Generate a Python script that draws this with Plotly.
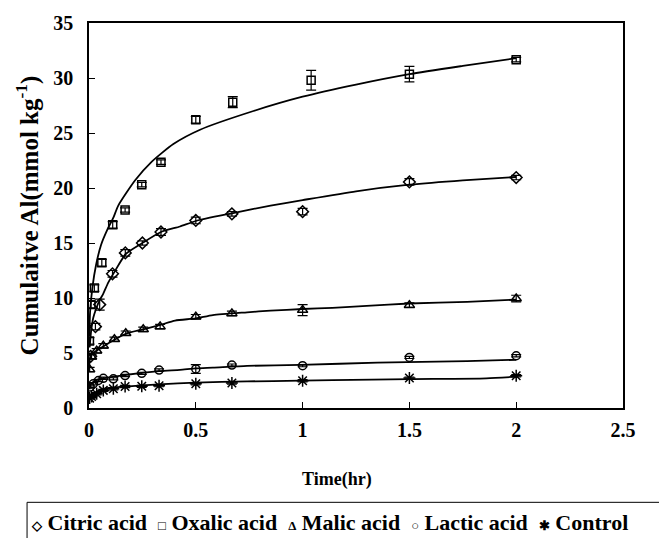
import plotly.graph_objects as go

# ---- measured points (time in hr, cumulative Al in mmol/kg) ----
citric_t = [0.008, 0.03, 0.05, 0.11, 0.17, 0.25, 0.337, 0.5, 0.669, 1.0, 1.5, 2.0]
citric_y = [4.7, 7.4, 9.4, 12.2, 14.1, 15.0, 16.0, 17.05, 17.65, 17.85, 20.55, 20.95]
citric_e = [0.2, 0.3, 0.5, 0.3, 0.3, 0.2, 0.3, 0.3, 0.2, 0.3, 0.3, 0.2]

oxalic_t = [0.002, 0.009, 0.025, 0.06, 0.111, 0.169, 0.247, 0.337, 0.5, 0.673, 1.04, 1.5, 2.0]
oxalic_y = [6.1, 9.4, 10.9, 13.2, 16.65, 18.0, 20.3, 22.35, 26.2, 27.8, 29.8, 30.35, 31.67]
oxalic_e = [0.3, 0.3, 0.3, 0.3, 0.3, 0.2, 0.2, 0.2, 0.3, 0.5, 0.9, 0.7, 0.2]

malic_t = [0.003, 0.012, 0.036, 0.067, 0.119, 0.172, 0.254, 0.333, 0.5, 0.669, 1.0, 1.5, 2.0]
malic_y = [3.5, 4.65, 5.2, 5.65, 6.25, 6.8, 7.15, 7.4, 8.3, 8.6, 8.9, 9.35, 9.95]
malic_e = [0.2, 0.2, 0.2, 0.2, 0.2, 0.2, 0.2, 0.2, 0.2, 0.2, 0.5, 0.2, 0.3]

lactic_t = [0.005, 0.02, 0.044, 0.067, 0.114, 0.169, 0.247, 0.328, 0.5, 0.669, 1.0, 1.5, 2.0]
lactic_y = [1.9, 2.2, 2.5, 2.7, 2.65, 2.95, 3.15, 3.45, 3.55, 3.9, 3.85, 4.6, 4.75]
lactic_e = [0.1, 0.1, 0.1, 0.1, 0.1, 0.1, 0.1, 0.1, 0.4, 0.1, 0.1, 0.1, 0.1]

control_t = [0.003, 0.012, 0.036, 0.067, 0.114, 0.169, 0.247, 0.328, 0.5, 0.669, 1.0, 1.5, 2.0]
control_y = [0.9, 1.05, 1.3, 1.6, 1.75, 1.95, 1.97, 2.03, 2.2, 2.27, 2.48, 2.72, 2.93]
control_e = [0.1, 0.1, 0.1, 0.1, 0.1, 0.1, 0.1, 0.1, 0.1, 0.1, 0.1, 0.1, 0.1]

# ---- fitted trend curves ----
citric_ct = [0.003, 0.01, 0.02, 0.033, 0.05, 0.067, 0.09, 0.12, 0.172, 0.25, 0.337, 0.426, 0.5, 0.669, 0.85, 1.0, 1.25, 1.5, 1.75, 2.0]
citric_cy = [5.5, 7.0, 8.2, 9.0, 9.8, 10.4, 11.4, 12.4, 14.0, 15.0, 16.0, 16.5, 17.0, 17.7, 18.4, 18.9, 19.7, 20.3, 20.7, 21.0]

oxalic_ct = [0.002, 0.005, 0.017, 0.033, 0.056, 0.088, 0.114, 0.137, 0.216, 0.294, 0.395, 0.52, 0.77, 1.0, 1.25, 1.5, 1.75, 2.0]
oxalic_cy = [6.5, 8.7, 11.1, 13.0, 14.8, 16.3, 17.3, 18.4, 20.7, 22.4, 24.0, 25.3, 27.0, 28.3, 29.4, 30.35, 31.1, 31.8]

malic_ct = [0.001, 0.005, 0.02, 0.067, 0.119, 0.172, 0.254, 0.333, 0.403, 0.5, 0.58, 0.74, 0.85, 1.0, 1.14, 1.3, 1.5, 1.77, 2.0]
malic_cy = [3.6, 4.6, 5.0, 5.6, 6.2, 6.75, 7.15, 7.55, 7.95, 8.15, 8.45, 8.7, 8.85, 9.0, 9.1, 9.28, 9.5, 9.65, 9.85]

lactic_ct = [0.002, 0.01, 0.044, 0.169, 0.328, 0.426, 0.5, 0.58, 0.74, 0.99, 1.35, 1.77, 2.0]
lactic_cy = [1.7, 2.2, 2.6, 3.0, 3.35, 3.47, 3.6, 3.67, 3.83, 3.92, 4.12, 4.27, 4.38]

control_ct = [0.002, 0.005, 0.067, 0.169, 0.328, 0.5, 0.74, 0.99, 1.14, 1.5, 1.86, 2.0]
control_cy = [0.9, 1.14, 1.74, 1.94, 2.15, 2.3, 2.42, 2.48, 2.54, 2.63, 2.7, 2.85]

legend_names = ["Citric acid", "Oxalic acid", "Malic acid", "Lactic acid", "Control"]
legend_glyphs = ["◇", "□", "Δ", "○", "✱"]

series = [
    (citric_t, citric_y, citric_e, citric_ct, citric_cy, "diamond-open", 9),
    (oxalic_t, oxalic_y, oxalic_e, oxalic_ct, oxalic_cy, "square-open", 8),
    (malic_t, malic_y, malic_e, malic_ct, malic_cy, "triangle-up-open", 9),
    (lactic_t, lactic_y, lactic_e, lactic_ct, lactic_cy, "circle-open", 8),
    (control_t, control_y, control_e, control_ct, control_cy, "asterisk-open", 10),
]

FONT = "Liberation Serif, Times New Roman, serif"
fig = go.Figure()
for name, (t, y, e, ct, cy, sym, sz) in zip(legend_names, series):
    fig.add_trace(go.Scatter(
        x=ct, y=cy, mode="lines", showlegend=False,
        line=dict(color="black", width=1.8, shape="spline", smoothing=0.6),
        hoverinfo="skip"))
    fig.add_trace(go.Scatter(
        x=t, y=y, mode="markers", name=name, showlegend=False,
        marker=dict(symbol=sym, size=sz, color="black",
                    line=dict(color="black", width=1.5)),
        error_y=dict(type="data", array=e, color="black", thickness=1.2, width=5)))

axis_common = dict(
    showline=True, linecolor="black", linewidth=1.5, mirror=True,
    ticks="inside", ticklen=6, tickcolor="black", tickwidth=1,
    showgrid=False, zeroline=False,
    tickfont=dict(family=FONT, size=20, color="black", weight="bold"),
)

fig.update_layout(
    width=659, height=538,
    margin=dict(l=89, r=36, t=17, b=130),
    paper_bgcolor="white", plot_bgcolor="white",
    showlegend=False,
    xaxis=dict(range=[0, 2.5], dtick=0.5, tick0=0, ticklabelstandoff=3, **axis_common),
    yaxis=dict(range=[0, 35], dtick=5, tick0=0,
               title=dict(text="Cumulaitve Al(mmol kg<sup>-1</sup>)", standoff=8,
                          font=dict(family=FONT, size=25, color="black", weight="bold")),
               ticklabelstandoff=10,
               **axis_common),
)

# x-axis title (sits slightly left of the plot centre in the reference)
fig.add_annotation(
    xref="paper", yref="paper", x=0.465, y=-0.185, xanchor="center", yanchor="middle",
    showarrow=False, text="Time(hr)",
    font=dict(family=FONT, size=18, color="black", weight="bold"))

# legend: bordered row of small symbols and bold names, as in the reference
legend_text = "  ".join(
    f"<span style='font-size:13px'>{g}</span> {n}" for g, n in zip(legend_glyphs, legend_names))
fig.add_shape(type="rect", xref="paper", yref="paper",
              x0=-0.116, x1=1.2, y0=-0.245, y1=-0.45,
              line=dict(color="black", width=1), fillcolor="rgba(0,0,0,0)")
fig.add_annotation(
    xref="paper", yref="paper", x=-0.112, y=-0.297, xanchor="left", yanchor="middle",
    showarrow=False, align="left",
    text=legend_text,
    font=dict(family=FONT, size=22, color="black", weight="bold"))

fig.write_html("out.html")
